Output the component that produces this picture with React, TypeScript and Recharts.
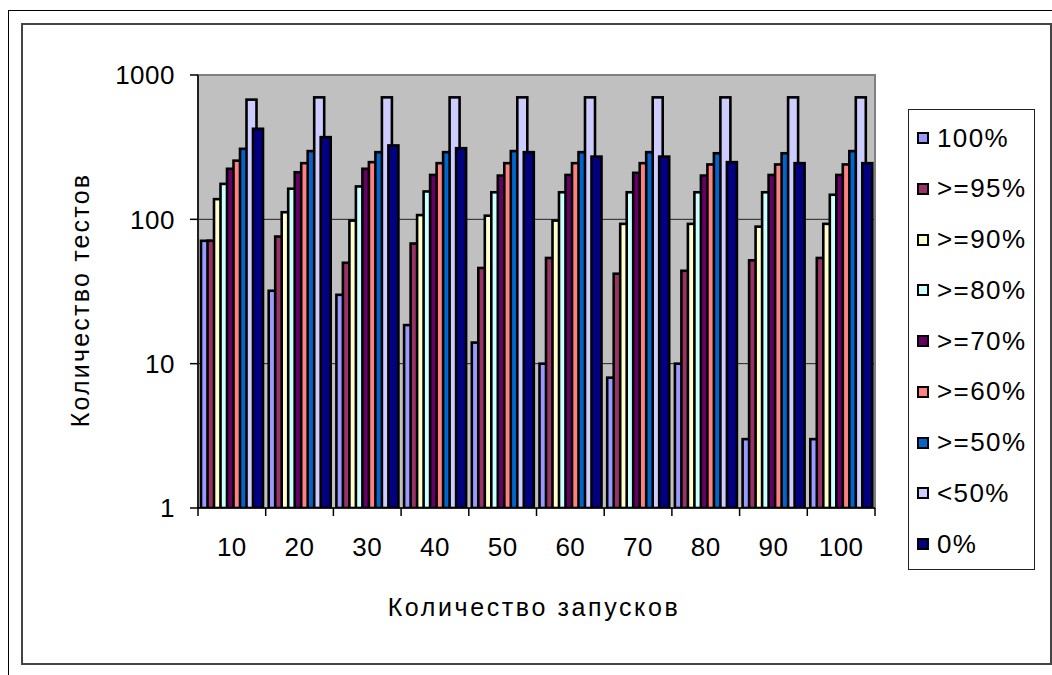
import React from 'react';
import { BarChart, Bar, XAxis, YAxis, CartesianGrid, ReferenceArea } from 'recharts';

const categories = ['10', '20', '30', '40', '50', '60', '70', '80', '90', '100'];
const seriesNames = ['100%', '>=95%', '>=90%', '>=80%', '>=70%', '>=60%', '>=50%', '<50%', '0%'];
const COLORS = ['#9999FF', '#993366', '#FFFFCC', '#CCFFFF', '#660066', '#FF8080', '#0066CC', '#CCCCFF', '#000080'];
const yTicks = [1, 10, 100, 1000];

// values per run count, one list per pass-rate bucket
const pass100 = [71, 32, 30, 18.5, 14, 10, 8, 10, 3, 3];
const pass95 = [71, 76, 50, 68, 46, 54, 42, 44, 52, 54];
const pass90 = [138, 112, 98, 107, 106, 98, 93, 93, 89, 93];
const pass80 = [176, 163, 169, 156, 154, 154, 154, 154, 154, 148];
const pass70 = [224, 212, 224, 203, 201, 203, 210, 201, 203, 203];
const pass60 = [255, 245, 249, 245, 245, 245, 245, 240, 240, 240];
const pass50 = [308, 297, 292, 292, 297, 292, 292, 287, 287, 297];
const below50 = [675, 700, 700, 700, 700, 700, 700, 700, 700, 700];
const zero = [424, 371, 325, 311, 292, 272, 272, 249, 245, 245];

const seriesValues = [pass100, pass95, pass90, pass80, pass70, pass60, pass50, below50, zero];

const data = categories.map((c, i) => {
  const row: Record<string, string | number> = { name: c };
  seriesNames.forEach((s, k) => { row[s] = seriesValues[k][i]; });
  return row;
});

const FONT = 'Arial, "Liberation Sans", sans-serif';
const W = 1052;
const H = 675;
const PLOT_LEFT = 198;
const PLOT_RIGHT = 875;
const PLOT_TOP = 75;
const PLOT_BOTTOM = 508;
const Y_AXIS_W = 100;
const X_AXIS_H = 60;
const BAND = (PLOT_RIGHT - PLOT_LEFT) / categories.length;

const XTick = (props: any) => {
  const { x, y, payload, index } = props;
  const axisY = y - 8;
  const left = x - BAND / 2;
  return (
    <g>
      <line x1={left} y1={axisY} x2={left} y2={axisY + 8} stroke="#000" strokeWidth={1.5} />
      {index === categories.length - 1 && (
        <line x1={x + BAND / 2} y1={axisY} x2={x + BAND / 2} y2={axisY + 8} stroke="#000" strokeWidth={1.5} />
      )}
      <text x={x} y={axisY + 48} textAnchor="middle" fontSize={26} letterSpacing={0.5} fontFamily={FONT} fill="#000">
        {payload.value}
      </text>
    </g>
  );
};

const BarShape = (props: any) => {
  const { x, y, width, height, fill } = props;
  if (!height || height <= 0) return null;
  return (
    <rect
      x={x}
      y={y}
      width={width}
      height={height}
      fill={fill}
      stroke="#000"
      strokeWidth={2.6}
    />
  );
};

const YTitle = () => (
  <text
    x={80}
    y={300}
    transform="rotate(-90 80 300)"
    textAnchor="middle"
    dominantBaseline="central"
    fontSize={25}
    letterSpacing={2.2}
    fontFamily={FONT}
    fill="#000"
  >
    Количество тестов
  </text>
);

const XTitle = () => (
  <text x={534} y={607} textAnchor="middle" dominantBaseline="central" fontSize={25} letterSpacing={2.6} fontFamily={FONT} fill="#000">
    Количество запусков
  </text>
);

export default function App() {
  return (
    <div style={{ position: 'absolute', left: 0, top: 0, width: W, height: H, background: '#fff', fontFamily: FONT }}>
      {/* outer and inner frames */}
      <div style={{ position: 'absolute', left: 8, top: 10, width: W - 8, height: H - 10, borderLeft: '1.5px solid #000', borderTop: '1.5px solid #000' }} />
      <div style={{ position: 'absolute', left: 21, top: 23, width: 1031, height: 642, border: '2px solid #444', boxSizing: 'border-box' }} />

      <div style={{ position: 'absolute', left: 0, top: 0 }}>
        <BarChart
          width={W}
          height={H}
          data={data}
          barSize={10}
          barGap={-3.5}
          barCategoryGap={0}
          margin={{ top: PLOT_TOP, right: W - PLOT_RIGHT, bottom: H - PLOT_BOTTOM - X_AXIS_H, left: PLOT_LEFT - Y_AXIS_W }}
        >
          <CartesianGrid vertical={false} fill="#C0C0C0" fillOpacity={1} stroke="#222" strokeWidth={1} />
          <ReferenceArea y1={1} y2={1000} fill="none" stroke="#808080" strokeWidth={2} ifOverflow="extendDomain" />
          {seriesNames.map((s, k) => (
            <Bar key={s} dataKey={s} fill={COLORS[k]} stroke="#000" strokeWidth={2.6} shape={BarShape} isAnimationActive={false} />
          ))}
          <XAxis
            dataKey="name"
            height={X_AXIS_H}
            interval={0}
            tickLine={false}
            tickSize={8}
            tickMargin={0}
            axisLine={{ stroke: '#000', strokeWidth: 1.5 }}
            tick={<XTick />}
            label={<XTitle />}
          />
          <YAxis
            type="number"
            scale="log"
            domain={[1, 1000]}
            allowDataOverflow
            ticks={yTicks}
            width={Y_AXIS_W}
            tickSize={8}
            tickMargin={15}
            axisLine={{ stroke: '#000', strokeWidth: 1.5 }}
            tickLine={{ stroke: '#000', strokeWidth: 1.5 }}
            tick={{ fontSize: 26, fill: '#000', fontFamily: FONT, letterSpacing: 0.5 }}
            label={<YTitle />}
          />
        </BarChart>
      </div>

      {/* legend */}
      <div
        style={{
          position: 'absolute',
          left: 908,
          top: 109,
          width: 127,
          height: 461,
          border: '1.5px solid #222',
          boxSizing: 'border-box',
          background: '#fff',
        }}
      >
        {seriesNames.map((s, k) => (
          <div
            key={s}
            style={{ position: 'absolute', left: 8, top: 28 + k * 50.75 - 14, height: 28, display: 'flex', alignItems: 'center' }}
          >
            <div style={{ width: 12, height: 12, background: COLORS[k], border: '2px solid #000', boxSizing: 'border-box', marginRight: 8 }} />
            <span style={{ fontSize: 26, color: '#000', whiteSpace: 'nowrap', letterSpacing: 1.4 }}>{s}</span>
          </div>
        ))}
      </div>
    </div>
  );
}
